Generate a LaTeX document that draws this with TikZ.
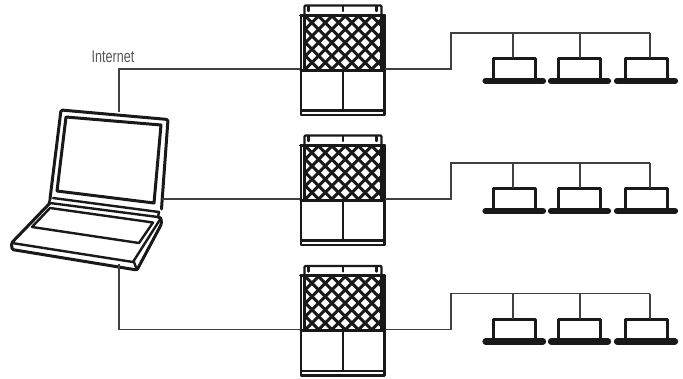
\documentclass[tikz,border=0pt]{standalone}
\usepackage{fontspec}
\setmainfont[FakeStretch=0.74]{Liberation Sans}
\definecolor{ink}{gray}{0.1}
\definecolor{wire}{gray}{0.25}
\tikzset{
  x=1pt,y=-1pt,
  wireline/.style={draw=wire,line width=1.2pt,line join=miter},
  heavy/.style={draw=ink,line width=3pt,line join=round,line cap=round},
  medium/.style={draw=ink,line width=2.4pt,line join=round,line cap=round},
  barline/.style={draw=ink,line width=6.2pt,line cap=round},
  lattice/.style={draw=ink,line width=3pt},
  lbl/.style={font=\fontsize{17pt}{18pt}\selectfont,text=black!66,inner sep=0pt}
}
\newcommand{\outdoor}[2]{%
  \begin{scope}[yshift=-#1pt]
    \coordinate (#2L) at (300,69);
    \coordinate (#2R) at (385,69);
    \draw[medium,rounded corners=1pt] (304.5,15) -- (304.5,5.5) -- (381.5,5.5) -- (381.5,15);
    \foreach \tx in {308.5,343,376.5}{\draw[medium] (\tx,6) -- (\tx,11);}
    \begin{scope}
      \clip (304,16) rectangle (382,70);
      \foreach \k in {-5,...,12}{
        \draw[lattice] (292+\k*13.3,16) -- +(56,56);
        \draw[lattice] (292+\k*13.3,16) -- +(-56,56);
      }
    \end{scope}
    \draw[heavy] (304.5,16) -- (304.5,69);
    \draw[heavy] (381.5,16) -- (381.5,69);
    \draw[medium] (301,15) -- (301,115) -- (384.5,115) -- (384.5,15);
    \draw[heavy] (300.5,15) -- (384.5,15);
    \draw[heavy] (301,70) -- (384.5,70);
    \draw[medium] (343,70) -- (343,110);
    \draw[medium] (302,110.5) -- (384,110.5);
  \end{scope}}
\newcommand{\indoorset}[2]{%
  \begin{scope}[yshift=-#1pt]
    \coordinate (#2S) at (451,69);
    \coordinate (#2K) at (451,33);
    \foreach \n/\a/\b/\d/\s/\e in {A/493/535/513/485.5/543,B/558/600/580/551/608,C/625/667/650/617/675}{
      \draw[heavy] (\a,78) -- (\a,58.5) -- (\b,58.5) -- (\b,78);
      \draw[barline] (\s,81) -- (\e,81);
      \coordinate (#2D\n) at (\d,58);
      \coordinate (#2T\n) at (\d,33);
    }
  \end{scope}}
\begin{document}
\begin{tikzpicture}
  \useasboundingbox (0,0) rectangle (683,378);
  \outdoor{0}{ua}
  \outdoor{130}{ub}
  \outdoor{260.5}{uc}
  \indoorset{0}{ga}
  \indoorset{130}{gb}
  \indoorset{260.5}{gc}

  % laptop
  \draw[heavy,rounded corners=1.5pt] (50,199) -- (61,110) -- (168,119.5) -- (161.5,209);
  \draw[heavy] (66,117) -- (161,125) -- (154,203) -- (57,191) -- cycle;
  \draw[medium] (50,199) -- (49,203);
  \draw[medium] (53,198) -- (159,212);
  \draw[medium] (50,203) -- (158,217);
  \draw[medium] (159,212) -- (158,217);
  \draw[heavy,rounded corners=1.5pt] (50,203) -- (11.5,243) -- (12,249.5) -- (137,270) -- (161.5,224) -- (161,218) -- (158,217);
  \draw[medium] (12,243) -- (133,262) -- (161,218);
  \draw[medium] (137,270) -- (134,262);
  \draw[medium] (50,208) -- (153,222.5) -- (139,243) -- (32,227) -- cycle;
  \coordinate (lapT) at (119,112);
  \coordinate (lapR) at (162,199);
  \coordinate (lapB) at (119,264);

  % connectors
  \draw[wireline] (lapT) |- (uaL);
  \draw[wireline] (lapR) -- (ubL);
  \draw[wireline] (lapB) |- (ucL);
  \foreach \g/\u in {ga/ua,gb/ub,gc/uc}{
    \draw[wireline] (\u R) -- (\g S) -- (\g K) -- (\g TC);
    \draw[wireline] (\g TA) -- (\g DA);
    \draw[wireline] (\g TB) -- (\g DB);
    \draw[wireline] (\g TC) -- (\g DC);
  }
  \node[lbl,anchor=center] (inet) at (113,57) {Internet};
\end{tikzpicture}
\end{document}
